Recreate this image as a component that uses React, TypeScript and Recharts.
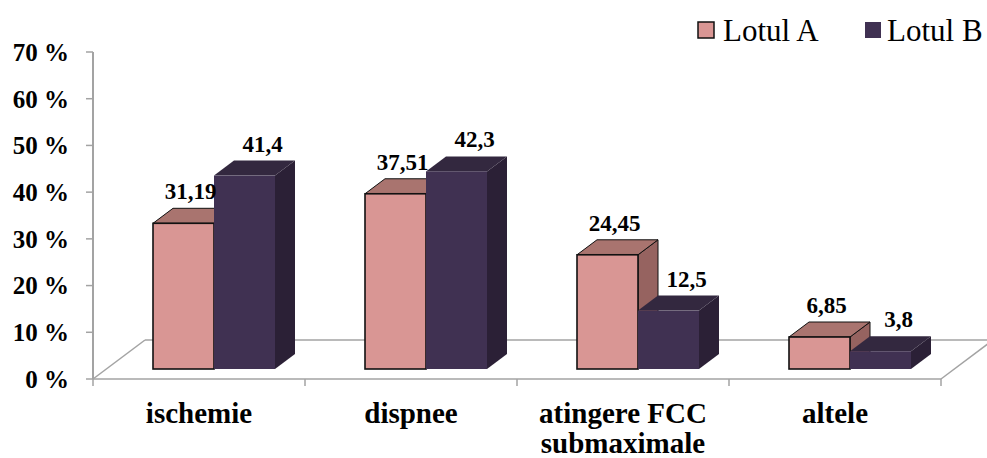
import { BarChart, Bar, XAxis, YAxis, LabelList, Customized } from 'recharts';

const categories = ['ischemie', 'dispnee', 'atingere FCC submaximale', 'altele'];
const lotulA = [31.19, 37.51, 24.45, 6.85];
const lotulB = [41.4, 42.3, 12.5, 3.8];
const yTicks = [0, 10, 20, 30, 40, 50, 60, 70];
const seriesNames = ['Lotul A', 'Lotul B'];

// long category names are split over two lines under the axis
const wrappedLabels: Record<string, string[]> = {
  'atingere FCC submaximale': ['atingere FCC', 'submaximale'],
};

const data = categories.map((name, i) => ({ name, a: lotulA[i], b: lotulB[i] }));

const W = 987;
const H = 458;
const PLOT_LEFT = 93;
const PLOT_RIGHT = 941;
const PLOT_TOP = 52;
const PLOT_BOTTOM = 379;
const X_AXIS_H = 60;
const BAND = (PLOT_RIGHT - PLOT_LEFT) / categories.length;

// floor depth (pseudo 3D)
const FLOOR_DX = 52;
const FLOOR_DY = -39;
// boxes stand a little behind the front edge of the floor
const BAR_OX = 15;
const BAR_OY = -10;
// box depth
const DX = 20;
const DY = -15;

const SERIF = '"Liberation Serif", "Times New Roman", serif';
const GRID = '#a3a3a3';

const COLORS = {
  a: { front: '#d99694', top: '#a9746f', side: '#966360', stroke: '#111' },
  b: { front: '#403152', top: '#33283f', side: '#2b2036', stroke: 'none' },
};

function makeBox(c: typeof COLORS.a) {
  return (props: any) => {
    const { x, y, width, height } = props;
    if (height == null || width == null) return null;
    const fx = x + BAR_OX;
    const fy = y + BAR_OY;
    const w = width;
    const h = height;
    const top = `${fx},${fy} ${fx + DX},${fy + DY} ${fx + w + DX},${fy + DY} ${fx + w},${fy}`;
    const side = `${fx + w},${fy} ${fx + w + DX},${fy + DY} ${fx + w + DX},${fy + h + DY} ${fx + w},${fy + h}`;
    const sw = c.stroke === 'none' ? 0 : 1;
    return (
      <g>
        <polygon points={side} fill={c.side} stroke={c.stroke} strokeWidth={sw} />
        <polygon points={top} fill={c.top} stroke={c.stroke} strokeWidth={sw} />
        <rect x={fx} y={fy} width={w} height={h} fill={c.front} stroke={c.stroke} strokeWidth={sw ? 1.6 : 0} />
      </g>
    );
  };
}

const BoxA = makeBox(COLORS.a);
const BoxB = makeBox(COLORS.b);

// value label above the top face; shift moves it sideways from the front centre
function makeValueLabel(shift: number) {
  return (props: any) => {
    const { x, y, width, value } = props;
    const cx = Number(x) + Number(width) / 2 + BAR_OX + shift;
    const by = Number(y) + BAR_OY + DY - 9;
    return (
      <text x={cx} y={by} textAnchor="middle" fontFamily={SERIF} fontWeight="bold" fontSize={23} fill="#000">
        {String(value).replace('.', ',')}
      </text>
    );
  };
}

const LabelA = makeValueLabel(7);
const LabelB = makeValueLabel(18);

function CategoryTick(props: any) {
  const { x, payload, index } = props;
  const lines = wrappedLabels[payload.value] ?? [payload.value];
  const half = BAND / 2;
  return (
    <g>
      <line x1={x - half} y1={PLOT_BOTTOM} x2={x - half} y2={PLOT_BOTTOM + 7} stroke={GRID} strokeWidth={1.5} />
      {index === categories.length - 1 && (
        <line x1={x + half} y1={PLOT_BOTTOM} x2={x + half} y2={PLOT_BOTTOM + 7} stroke={GRID} strokeWidth={1.5} />
      )}
      {lines.map((line: string, i: number) => (
        <text key={i} x={x} y={PLOT_BOTTOM + 44 + i * 30} textAnchor="middle" fontFamily={SERIF} fontWeight="bold" fontSize={29} fill="#000">
          {line}
        </text>
      ))}
    </g>
  );
}

function Floor() {
  return (
    <g stroke={GRID} strokeWidth={1.5} fill="none">
      <line x1={PLOT_LEFT} y1={PLOT_BOTTOM} x2={PLOT_LEFT + FLOOR_DX} y2={PLOT_BOTTOM + FLOOR_DY} />
      <line x1={PLOT_LEFT + FLOOR_DX} y1={PLOT_BOTTOM + FLOOR_DY} x2={PLOT_RIGHT + FLOOR_DX} y2={PLOT_BOTTOM + FLOOR_DY} />
      <line x1={PLOT_RIGHT} y1={PLOT_BOTTOM} x2={PLOT_RIGHT + FLOOR_DX} y2={PLOT_BOTTOM + FLOOR_DY} />
    </g>
  );
}

function LegendBox() {
  const items = [
    { name: seriesNames[0], color: COLORS.a.front, border: '#111', sx: 698, tx: 723 },
    { name: seriesNames[1], color: COLORS.b.front, border: 'none', sx: 865, tx: 887 },
  ];
  return (
    <g>
      {items.map((it) => (
        <g key={it.name}>
          <rect x={it.sx} y={22} width={16} height={16} fill={it.color} stroke={it.border} strokeWidth={it.border === 'none' ? 0 : 1.5} />
          <text x={it.tx} y={41} fontFamily={SERIF} fontSize={31} fill="#000">
            {it.name}
          </text>
        </g>
      ))}
    </g>
  );
}

export default function App() {
  return (
    <div style={{ position: 'absolute', left: 0, top: 0, width: W, height: H, background: '#fff' }}>
      <BarChart
        width={W}
        height={H}
        data={data}
        barGap={0}
        barSize={61}
        margin={{ top: PLOT_TOP, right: W - PLOT_RIGHT, bottom: H - PLOT_BOTTOM - X_AXIS_H, left: 0 }}
      >
        <Customized component={<Floor />} />
        <XAxis
          dataKey="name"
          height={X_AXIS_H}
          interval={0}
          tickLine={false}
          axisLine={{ stroke: GRID, strokeWidth: 1.5 }}
          tick={<CategoryTick />}
        />
        <YAxis
          width={PLOT_LEFT}
          domain={[0, 70]}
          ticks={yTicks}
          allowDataOverflow
          tickSize={7}
          tickMargin={17}
          axisLine={{ stroke: GRID, strokeWidth: 2 }}
          tickLine={{ stroke: GRID, strokeWidth: 1.5 }}
          tick={{ fontFamily: SERIF, fontWeight: 'bold', fontSize: 25, fill: '#000' }}
          tickFormatter={(v) => `${v} %`}
        />
        <Bar dataKey="a" name={seriesNames[0]} shape={BoxA} isAnimationActive={false}>
          <LabelList dataKey="a" content={<LabelA />} />
        </Bar>
        <Bar dataKey="b" name={seriesNames[1]} shape={BoxB} isAnimationActive={false}>
          <LabelList dataKey="b" content={<LabelB />} />
        </Bar>
        <Customized component={<LegendBox />} />
      </BarChart>
    </div>
  );
}
